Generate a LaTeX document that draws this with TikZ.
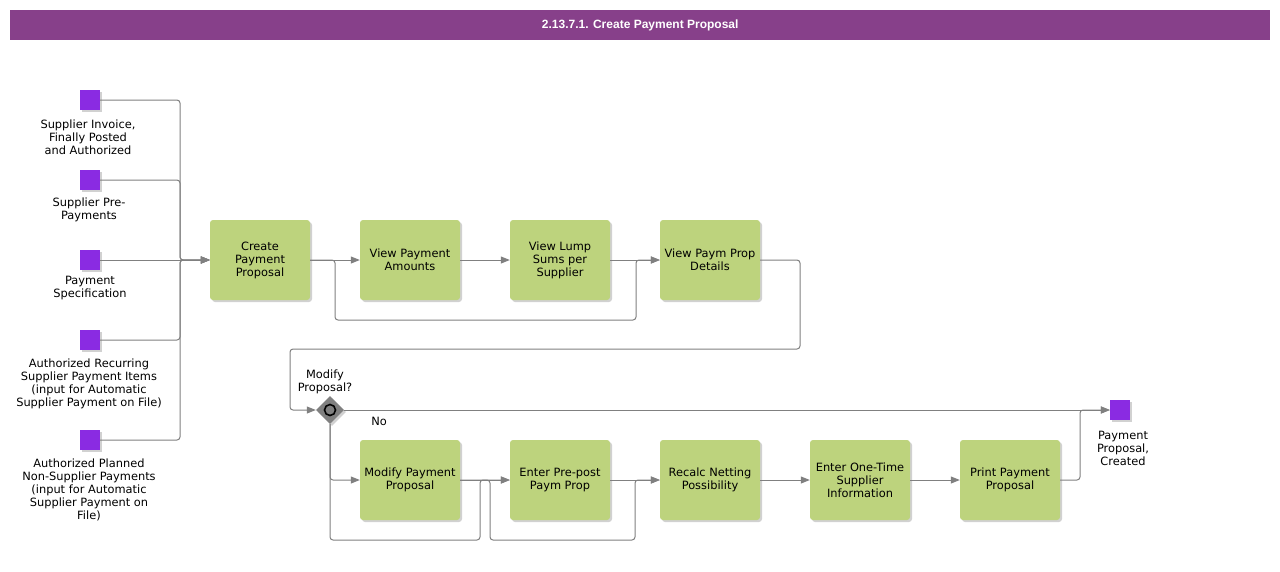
\documentclass[tikz,border=0pt]{standalone}
\usepackage{fontspec}
\setmainfont{DejaVu Sans}
\newfontfamily\titlefont{Liberation Sans}
\usetikzlibrary{arrows.meta,shapes.geometric,shadows}
\definecolor{titlebg}{RGB}{135,64,138}
\definecolor{taskfill}{RGB}{189,211,125}
\definecolor{evpurple}{RGB}{138,43,226}
\definecolor{linegray}{RGB}{128,128,128}
\tikzset{
  txt/.style={font=\fontsize{11.4}{13}\selectfont, align=center, inner sep=0pt, text=black},
  task/.style={rectangle, rounded corners=3pt, fill=taskfill, minimum width=100pt, minimum height=80pt, inner sep=0pt, align=center, font=\fontsize{11.4}{13}\selectfont,
    drop shadow={shadow xshift=2pt, shadow yshift=-2pt, fill=black, opacity=0.18}},
  evsq/.style={rectangle, fill=evpurple, minimum width=20pt, minimum height=20pt, inner sep=0pt,
    drop shadow={shadow xshift=2pt, shadow yshift=-2pt, fill=black, opacity=0.18}},
  gate/.style={diamond, fill=linegray, minimum width=28pt, minimum height=28pt, inner sep=0pt,
    drop shadow={shadow xshift=2pt, shadow yshift=-2pt, fill=black, opacity=0.18}},
  flow/.style={draw=linegray, line width=1pt, rounded corners=3pt, -{Triangle[length=9pt,width=7pt,fill=linegray]}},
}
\begin{document}
\begin{tikzpicture}[x=1pt,y=-1pt]
\useasboundingbox (0,0) rectangle (1280,571);
\fill[white] (0,0) rectangle (1280,571);
% title
\node[fill=titlebg, minimum width=1260pt, minimum height=30pt, inner sep=0pt, anchor=north west,
  font=\titlefont\bfseries\fontsize{12}{14}\selectfont, text=white] (title) at (10,10) {2.13.7.1. Create Payment Proposal};

% input events
\node[evsq] (in1) at (90,100) {};
\node[evsq] (in2) at (90,180) {};
\node[evsq] (in3) at (90,260) {};
\node[evsq] (in4) at (90,340) {};
\node[evsq] (in5) at (90,440) {};
\node[txt] (l1) at (88,137.5) {Supplier Invoice,\\Finally Posted\\and Authorized};
\node[txt] (l2) at (89,210) {Supplier Pre-\\Payments};
\node[txt] (l3) at (90,288) {Payment\\Specification};
\node[txt] (l4) at (89,384) {Authorized Recurring\\Supplier Payment Items\\(input for Automatic\\Supplier Payment on File)};
\node[txt] (l5) at (89,489.5) {Authorized Planned\\Non-Supplier Payments\\(input for Automatic\\Supplier Payment on\\File)};

% tasks row 1
\node[task] (cpp) at (260,260) {Create\\Payment\\Proposal};
\node[task] (vpa) at (410,260) {View Payment\\Amounts};
\node[task] (vls) at (560,260) {View Lump\\Sums per\\Supplier};
\node[task] (vpd) at (710,260) {View Paym Prop\\Details};

% gateway
\node[gate] (gw) at (330,410) {};
\draw[black, line width=1.6pt, fill=linegray] (gw.center) circle (5.5pt);
\node[txt] (gwl) at (325,382) {Modify\\Proposal?};
\node[txt] (no) at (379,421) {No};

% tasks row 2
\node[task] (mpp) at (410,480) {Modify Payment\\Proposal};
\node[task] (epp) at (560,480) {Enter Pre-post\\Paym Prop};
\node[task] (rnp) at (710,480) {Recalc Netting\\Possibility};
\node[task] (eot) at (860,480) {Enter One-Time\\Supplier\\Information};
\node[task] (ppr) at (1010,480) {Print Payment\\Proposal};

% end event
\node[evsq] (out) at (1120,410) {};
\node[txt] (lo) at (1123,448.5) {Payment\\Proposal,\\Created};

% connectors: inputs
\draw[flow] (in1.east) -| (180,260) -- (cpp.west);
\draw[flow] (in2.east) -| (180,260) -- (cpp.west);
\draw[flow] (in3.east) -- (cpp.west);
\draw[flow] (in4.east) -| (180,260) -- (cpp.west);
\draw[flow] (in5.east) -| (180,260) -- (cpp.west);

% row 1
\draw[flow] (cpp.east) -- (vpa.west);
\draw[flow] (cpp.east) -| (335,320) -| (636,260) -- (vpd.west);
\draw[flow] (vpa.east) -- (vls.west);
\draw[flow] (vls.east) -- (vpd.west);
\draw[flow] (vpd.east) -| (800,349) -| (290,410) -- (gw.west);

% gateway
\draw[flow] (gw.east) -- (out.west);
\draw[flow] (gw.south) |- (mpp.west);
\draw[flow] (gw.south) |- (480,540) -- (480,480) -- (epp.west);

% row 2
\draw[flow] (mpp.east) -- (epp.west);
\draw[flow] (mpp.east) -| (490,540) -| (635,480) -- (rnp.west);
\draw[flow] (epp.east) -- (rnp.west);
\draw[flow] (rnp.east) -- (eot.west);
\draw[flow] (eot.east) -- (ppr.west);
\draw[flow] (ppr.east) -| (1080,410) -- (out.west);
\end{tikzpicture}
\end{document}
